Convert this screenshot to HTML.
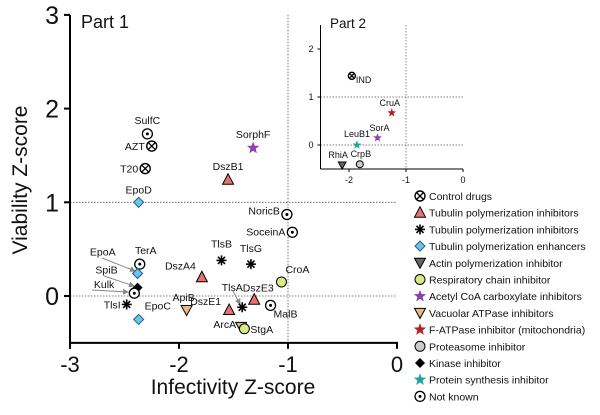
<!DOCTYPE html>
<html><head><meta charset="utf-8"><style>
html,body{margin:0;padding:0;background:#fff;}
svg{display:block;font-family:"Liberation Sans",Arial,sans-serif;}
</style></head><body>
<svg id="c" width="600" height="415" viewBox="0 0 600 415">
<defs><marker id="ar" markerWidth="6" markerHeight="6" refX="5" refY="3" orient="auto"><path d="M0,0 L6,3 L0,6 z" fill="#888"/></marker></defs>
</svg>
<script>
// Part 1 data
const names1 = ["SulfC","AZT","T20","EpoD","DszB1","SorphF","NoricB","SoceinA","TerA","EpoA","SpiB","Kulk","TlsI","EpoC","ApiB","DszA4","TlsB","TlsG","CroA","DszE1","TlsA","DszE3","MalB","ArcA","StgA"];
const xs1 = [-2.29,-2.25,-2.31,-2.37,-1.55,-1.32,-1.01,-0.96,-2.36,-2.38,-2.38,-2.41,-2.48,-2.37,-1.93,-1.79,-1.61,-1.34,-1.06,-1.54,-1.42,-1.31,-1.16,-1.43,-1.40];
const ys1 = [1.73,1.60,1.36,1.00,1.24,1.58,0.87,0.68,0.34,0.24,0.09,0.03,-0.09,-0.25,-0.15,0.20,0.38,0.34,0.15,-0.15,-0.12,-0.04,-0.10,-0.33,-0.35];
const types1 = ["nk","ctrl","ctrl","enh","tri","acc","nk","nk","nk","enh","kin","nk","star","enh","vac","tri","star","star","resp","tri","star","tri","nk","vac","resp"];
// Part 2 data
const names2 = ["IND","CruA","SorA","LeuB1","RhiA","CrpB"];
const xs2 = [-1.95,-1.25,-1.50,-1.86,-2.12,-1.81];
const ys2 = [1.44,0.67,0.15,0.00,-0.42,-0.40];
const types2 = ["ctrl","fatp","acc","prot","act","proteo"];
const xTicks1 = [-3,-2,-1,0], yTicks1 = [0,1,2,3];
const xTicks2 = [-2,-1,0], yTicks2 = [0,1,2];
const legendLabels = ["Control drugs","Tubulin polymerization inhibitors","Tubulin polymerization inhibitors","Tubulin polymerization enhancers","Actin polymerization inhibitor","Respiratory chain inhibitor","Acetyl CoA carboxylate inhibitors","Vacuolar ATPase inhibitors","F-ATPase inhibitor (mitochondria)","Proteasome inhibitor","Kinase inhibitor","Protein synthesis inhibitor","Not known"];
const legendTypes = ["ctrl","tri","star","enh","act","resp","acc","vac","fatp","proteo","kin","prot","nk"];

const svg=document.getElementById('c');
const NS='http://www.w3.org/2000/svg';
function el(t,a,p){const e=document.createElementNS(NS,t);for(const k in a)e.setAttribute(k,a[k]);(p||svg).appendChild(e);return e;}
function txt(x,y,s,size,anchor,p){const e=el('text',{x:x,y:y,'font-size':size,'text-anchor':anchor||'start',fill:'#111'},p);e.textContent=s;return e;}
const X1=v=>397+v*109, Y1=v=>296-v*93.7;
const X2=v=>463+v*57, Y2=v=>145-v*48;

function star(x,y,r,fill){let d='';for(let i=0;i<10;i++){const rr=i%2?r*0.42:r;const a=-Math.PI/2+i*Math.PI/5;d+=(i?'L':'M')+(x+rr*Math.cos(a)).toFixed(1)+','+(y+rr*Math.sin(a)).toFixed(1);}return el('path',{d:d+'Z',fill:fill});}
function marker(type,x,y,s){
  s=s||1;let g=el('g',{});
  const r=5*s;
  if(type==='ctrl'){el('circle',{cx:x,cy:y,r:r,fill:'#fff',stroke:'#000','stroke-width':1.4},g);el('path',{d:`M${x-r*0.7},${y-r*0.7}L${x+r*0.7},${y+r*0.7}M${x+r*0.7},${y-r*0.7}L${x-r*0.7},${y+r*0.7}`,stroke:'#000','stroke-width':1.3},g);}
  else if(type==='nk'){el('circle',{cx:x,cy:y,r:r,fill:'#fff',stroke:'#000','stroke-width':1.3},g);el('circle',{cx:x,cy:y,r:1.5*s,fill:'#000'},g);}
  else if(type==='tri'){el('path',{d:`M${x},${y-r*1.2}L${x+r*1.1},${y+r*0.9}L${x-r*1.1},${y+r*0.9}Z`,fill:'#e8706f',stroke:'#000','stroke-width':1},g);}
  else if(type==='vac'){el('path',{d:`M${x},${y+r*1.1}L${x+r*1.1},${y-r*0.9}L${x-r*1.1},${y-r*0.9}Z`,fill:'#e9b97d',stroke:'#000','stroke-width':1},g);}
  else if(type==='act'){el('path',{d:`M${x},${y+r*1.1}L${x+r*1.1},${y-r*0.9}L${x-r*1.1},${y-r*0.9}Z`,fill:'#666',stroke:'#000','stroke-width':1},g);}
  else if(type==='enh'){el('path',{d:`M${x},${y-r}L${x+r},${y}L${x},${y+r}L${x-r},${y}Z`,fill:'#6cc6ea',stroke:'#1d5f80','stroke-width':1},g);}
  else if(type==='kin'){el('path',{d:`M${x},${y-r}L${x+r},${y}L${x},${y+r}L${x-r},${y}Z`,fill:'#000'},g);}
  else if(type==='resp'){el('circle',{cx:x,cy:y,r:r,fill:'#d5ec86',stroke:'#000','stroke-width':1},g);}
  else if(type==='proteo'){el('circle',{cx:x,cy:y,r:r,fill:'#ccc',stroke:'#000','stroke-width':1},g);}
  else if(type==='star'){for(let i=0;i<4;i++){const a=i*Math.PI/4;el('line',{x1:x-r*Math.cos(a),y1:y-r*Math.sin(a),x2:x+r*Math.cos(a),y2:y+r*Math.sin(a),stroke:'#000','stroke-width':1.6},g);}}
  else if(type==='acc'){g.appendChild(star(x,y,r*1.3,'#8e3fb0'));}
  else if(type==='fatp'){g.appendChild(star(x,y,r*1.3,'#b52020'));}
  else if(type==='prot'){g.appendChild(star(x,y,r*1.3,'#1ea3a3'));}
  return g;
}

// Part 1 axes
const ax=el('g',{});
el('line',{x1:X1(-3),y1:Y1(0),x2:X1(0),y2:Y1(0),stroke:'#555','stroke-width':0.8,'stroke-dasharray':'1.5,1.5'},ax);
el('line',{x1:X1(-3),y1:Y1(1),x2:X1(0),y2:Y1(1),stroke:'#555','stroke-width':0.8,'stroke-dasharray':'1.5,1.5'},ax);
el('line',{x1:X1(-1),y1:Y1(3),x2:X1(-1),y2:Y1(-0.5),stroke:'#555','stroke-width':0.8,'stroke-dasharray':'1.5,1.5'},ax);
el('line',{x1:X1(-3),y1:Y1(3),x2:X1(-3),y2:Y1(-0.5)+1,stroke:'#000','stroke-width':2},ax);
el('line',{x1:X1(-3)-1,y1:Y1(-0.5),x2:X1(0)+1,y2:Y1(-0.5),stroke:'#000','stroke-width':2},ax);
xTicks1.forEach(t=>{el('line',{x1:X1(t),y1:Y1(-0.5),x2:X1(t),y2:Y1(-0.5)+6,stroke:'#000','stroke-width':2},ax);txt(X1(t),Y1(-0.5)+29,String(t),22,'middle',ax);});
yTicks1.forEach(t=>{el('line',{x1:X1(-3)-6,y1:Y1(t),x2:X1(-3),y2:Y1(t),stroke:'#000','stroke-width':2},ax);txt(X1(-3)-11,Y1(t)+9,String(t),25,'end',ax);});
const xt=txt(233,394,'Infectivity Z-score',21,'middle');
const yt=el('text',{x:0,y:0,'font-size':21,'text-anchor':'middle',fill:'#111',transform:'translate(27,180) rotate(-90)'});yt.textContent='Viability Z-score';

const p1=txt(81,28,'Part 1',18);

// arrows
[[102,258,135,271],[104,276,134,286],[92,290,128,292],[233,291,240,304]].forEach(a=>{el('line',{x1:a[0],y1:a[1],x2:a[2],y2:a[3],stroke:'#888','stroke-width':1,'marker-end':'url(#ar)'});});

// label offsets (dx,dy,anchor)
const lab1={SulfC:[0,-10,'middle'],AZT:[-7,4,'end'],T20:[-7,4,'end'],EpoD:[0,-9,'middle'],DszB1:[0,-10,'middle'],SorphF:[0,-10,'middle'],NoricB:[-7,0,'end'],SoceinA:[-7,3,'end'],TerA:[6,-10,'middle'],EpoA:[-22,-18,'end'],SpiB:[-20,-14,'end'],Kulk:[-20,-5,'end'],TlsI:[-6,4,'end'],EpoC:[6,-10,'start'],ApiB:[-3,-9,'middle'],DszA4:[-6,-8,'end'],TlsB:[0,-13,'middle'],TlsG:[0,-12,'middle'],CroA:[4,-9,'start'],DszE1:[-8,-5,'end'],TlsA:[-10,-16,'middle'],DszE3:[4,-8,'middle'],MalB:[3,12,'start'],ArcA:[-5,1,'end'],StgA:[6,4,'start']};
names1.forEach((n,i)=>{
  const x=X1(xs1[i]),y=Y1(ys1[i]);
  const g=marker(types1[i],x,y);
  
  
  const o=lab1[n];txt(x+o[0],y+o[1],n,10.5,o[2]);
});

// Part 2 inset
const ig=el('g',{});
el('line',{x1:X2(-2.5),y1:Y2(0),x2:X2(0),y2:Y2(0),stroke:'#555','stroke-width':0.7,'stroke-dasharray':'1.5,1.5'},ig);
el('line',{x1:X2(-2.5),y1:Y2(1),x2:X2(0),y2:Y2(1),stroke:'#555','stroke-width':0.7,'stroke-dasharray':'1.5,1.5'},ig);
el('line',{x1:X2(-1),y1:Y2(2.5),x2:X2(-1),y2:Y2(-0.5),stroke:'#555','stroke-width':0.7,'stroke-dasharray':'1.5,1.5'},ig);
el('line',{x1:X2(-2.5),y1:Y2(2.5),x2:X2(-2.5),y2:Y2(-0.5),stroke:'#000','stroke-width':1},ig);
el('line',{x1:X2(-2.5),y1:Y2(-0.5),x2:X2(0),y2:Y2(-0.5),stroke:'#000','stroke-width':1},ig);
xTicks2.forEach(t=>{el('line',{x1:X2(t),y1:Y2(-0.5),x2:X2(t),y2:Y2(-0.5)+3,stroke:'#000'},ig);txt(X2(t),Y2(-0.5)+14,String(t),9,'middle',ig);});
yTicks2.forEach(t=>{el('line',{x1:X2(-2.5)-3,y1:Y2(t),x2:X2(-2.5),y2:Y2(t),stroke:'#000'},ig);txt(X2(-2.5)-7,Y2(t)+3,String(t),9,'end',ig);});
const p2=txt(330,28,'Part 2',13.5);
const lab2={IND:[4,7,'start'],CruA:[-2,-7,'middle'],SorA:[2,-7,'middle'],LeuB1:[0,-8,'middle'],RhiA:[-4,-7,'middle'],CrpB:[1,-7,'middle']};
names2.forEach((n,i)=>{
  const x=X2(xs2[i]),y=Y2(ys2[i]);
  const g=marker(types2[i],x,y,0.7);
  
  
  const o=lab2[n];txt(x+o[0],y+o[1],n,9,o[2]);
});

// Legend
const lg=el('g',{});
legendLabels.forEach((l,i)=>{
  const y=196+i*16.7;
  const e=el('g',{},lg);
  
  
  e.appendChild(marker(legendTypes[i],420,y,1));
  txt(429,y+4,l,10.5,'start',e);
});
</script>
</body></html>
